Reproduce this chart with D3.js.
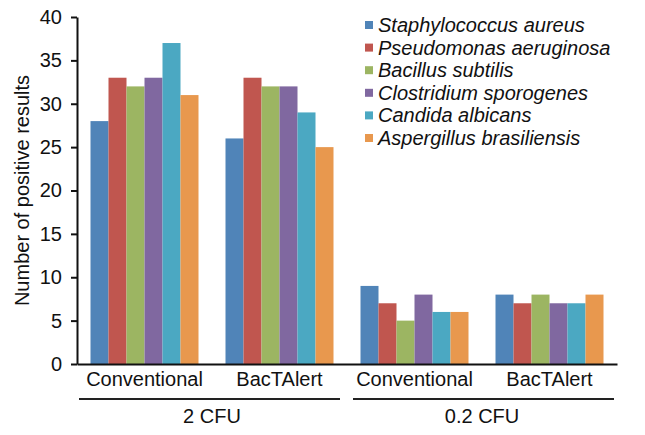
<!DOCTYPE html>
<html>
<head>
<meta charset="utf-8">
<script src="https://cdn.jsdelivr.net/npm/d3@7/dist/d3.min.js"></script>
<style>
  html, body { margin: 0; padding: 0; background: #fff; }
  text { font-family: "Liberation Sans", Arial, sans-serif; fill: #111; }
</style>
</head>
<body>
<svg id="chart" width="645" height="435"></svg>
<script>
// ---- data ----
const groups = ["2 CFU", "0.2 CFU"];
const methods = ["Conventional", "BacTAlert"];
const categories = ["2 CFU|Conventional", "2 CFU|BacTAlert", "0.2 CFU|Conventional", "0.2 CFU|BacTAlert"];
const series = ["Staphylococcus aureus", "Pseudomonas aeruginosa", "Bacillus subtilis",
                "Clostridium sporogenes", "Candida albicans", "Aspergillus brasiliensis"];
const staphylococcus = [28, 26, 9, 8];
const pseudomonas   = [33, 33, 7, 7];
const bacillus      = [32, 32, 5, 8];
const clostridium   = [33, 32, 8, 7];
const candida       = [37, 29, 6, 7];
const aspergillus   = [31, 25, 6, 8];
const yTicks = [0, 5, 10, 15, 20, 25, 30, 35, 40];
const colors = ["#5084B8", "#C0564F", "#9CB562", "#8068A0", "#4BA8C2", "#E8984E"];

const values = [staphylococcus, pseudomonas, bacillus, clostridium, candida, aspergillus];

// ---- layout ----
const svg = d3.select("#chart");
const mLeft = 77, mRight = 617, mTop = 17, mBottom = 364;

const x0 = d3.scaleBand().domain(categories).range([mLeft, mRight]).padding(0);
const x1 = d3.scaleBand().domain(series)
  .range([x0.bandwidth() * 0.1, x0.bandwidth() * 0.9]).padding(0);
const y = d3.scaleLinear().domain([0, 40]).range([mBottom, mTop]);
const color = d3.scaleOrdinal().domain(series).range(colors);

// bars
const gCat = svg.append("g").selectAll("g")
  .data(categories).join("g")
  .attr("transform", d => `translate(${x0(d)},0)`);

gCat.selectAll("rect")
  .data((c, ci) => series.map((s, si) => ({ s, v: values[si][ci] })))
  .join("rect")
  .attr("x", d => x1(d.s))
  .attr("width", x1.bandwidth())
  .attr("y", d => y(d.v))
  .attr("height", d => y(0) - y(d.v))
  .attr("fill", d => color(d.s));

// y axis
const yAxis = svg.append("g")
  .attr("transform", `translate(${mLeft},0)`)
  .call(d3.axisLeft(y).tickValues(yTicks).tickSize(6).tickPadding(9).tickSizeOuter(0));
yAxis.select(".domain").attr("stroke", "#111").attr("stroke-width", 2);
yAxis.selectAll(".tick line").attr("stroke", "#111").attr("stroke-width", 2);
yAxis.selectAll(".tick text").style("font-size", "20px").attr("fill", "#111")
  .style("font-family", "'Liberation Sans', Arial, sans-serif");

// x axis line
const xAxis = svg.append("g")
  .attr("transform", `translate(0,${mBottom})`)
  .call(d3.axisBottom(x0).tickSize(0).tickPadding(8).tickFormat(d => d.split("|")[1]));
xAxis.select(".domain").attr("stroke", "#111").attr("stroke-width", 2);
xAxis.selectAll(".tick text").style("font-size", "20px").attr("fill", "#111")
  .style("font-family", "'Liberation Sans', Arial, sans-serif");

// group brackets
groups.forEach((g, gi) => {
  const cats = categories.filter(c => c.startsWith(g + "|"));
  const xs = x0(cats[0]);
  const xe = x0(cats[cats.length - 1]) + x0.bandwidth();
  const xa = gi === 0 ? mLeft + 2 : xs + 6;
  const xb = gi === 0 ? xe - 7 : xe - 3;
  svg.append("line")
    .attr("x1", xa).attr("x2", xb)
    .attr("y1", 399).attr("y2", 399)
    .attr("stroke", "#222").attr("stroke-width", 2);
  svg.append("text")
    .attr("x", (xs + xe) / 2)
    .attr("y", 423)
    .attr("text-anchor", "middle")
    .style("font-size", "20px")
    .text(g);
});

// y label
svg.append("text")
  .attr("transform", `translate(29,${(mTop + mBottom) / 2}) rotate(-90)`)
  .attr("text-anchor", "middle")
  .style("font-size", "20px")
  .text("Number of positive results");

// legend
const legend = svg.append("g").attr("transform", "translate(365,25)");
const li = legend.selectAll("g").data(series).join("g")
  .attr("transform", (d, i) => `translate(0,${i * 22.6})`);
li.append("rect").attr("x", 0).attr("y", -4).attr("width", 8).attr("height", 8)
  .attr("fill", d => color(d));
li.append("text").attr("x", 13).attr("y", 7)
  .style("font-size", "20px").style("font-style", "italic")
  .text(d => d);
</script>
</body>
</html>
